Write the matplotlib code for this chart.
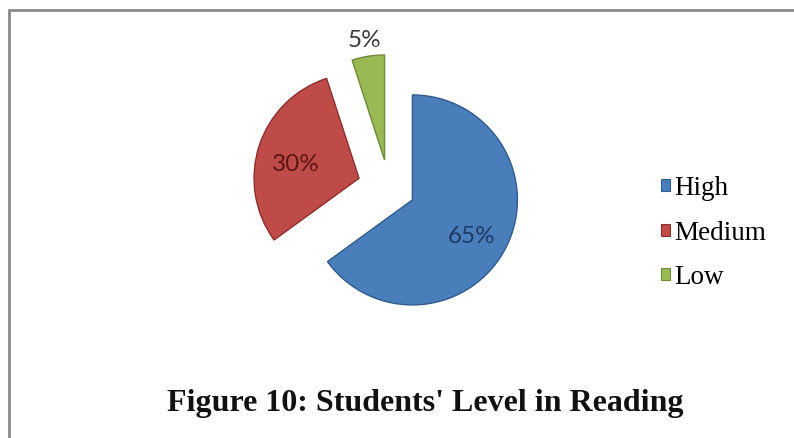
import matplotlib
matplotlib.use("Agg")
import matplotlib.pyplot as plt
from matplotlib.patches import Patch, Rectangle
from matplotlib.transforms import offset_copy
import numpy as np

# Data
levels = ["High", "Medium", "Low"]
shares = [65, 30, 5]
colors = ["#4A7EBB", "#BE4B48", "#98B954"]
edge_colors = ["#2F5A8E", "#8C2F2C", "#6E8A36"]
pct_colors = ["#1C3A66", "#5C1414", "#3A3A3A"]
explode = [0.25, 0.30, 0.27]   # fraction of the radius
title = "Figure 10: Students' Level in Reading"

W, H = 794, 438
fig = plt.figure(figsize=(W / 100, H / 100), dpi=100)
ax = fig.add_axes([0, 0, 1, 1])

# Outer frame
ax.add_patch(Rectangle((9, -10), W + 20, H, fill=False,
                       edgecolor="#8A8A8A", linewidth=2.0, zorder=0))

radius = 105
center = (389, H - 188)
wedges, texts, autotexts = ax.pie(
    shares, colors=colors, explode=[e * radius for e in explode],
    startangle=90, counterclock=False,
    radius=radius, center=center, autopct="%d%%", pctdistance=0.63,
    wedgeprops=dict(linewidth=1.0),
    textprops=dict(family=["Lato", "DejaVu Sans"], fontsize=17.5),
    frame=True,
)
for w, ec in zip(wedges, edge_colors):
    w.set_edgecolor(ec)

# Small slice: label sits outside the wedge
w = wedges[2]
theta = np.deg2rad((w.theta1 + w.theta2) / 2)
cx, cy = w.center
autotexts[2].set_position((cx + 1.22 * radius * np.cos(theta),
                           cy + 1.22 * radius * np.sin(theta)))

# Percent labels sit slightly below their anchor points
label_tr = offset_copy(ax.transData, fig=fig, x=0, y=-7, units="dots")
for t, c in zip(autotexts, pct_colors):
    t.set_color(c)
    t.set_transform(label_tr)

ax.set_xlim(0, W)
ax.set_ylim(0, H)
ax.set_aspect("auto")
ax.axis("off")

handles = [Patch(facecolor=c, edgecolor=e, linewidth=0.8) for c, e in zip(colors, edge_colors)]
fig.legend(handles, levels, loc="center left", bbox_to_anchor=(661 / W, 1 - 233 / H),
           frameon=False, prop=dict(family="Liberation Serif", size=19.5),
           handlelength=0.33, handleheight=0.33, handletextpad=0.15,
           labelspacing=0.72, borderaxespad=0, borderpad=0)

ax.text(425, H - 404, title, ha="center", va="center",
        family="Liberation Serif", fontweight="bold", fontsize=23, color="#111111")

fig.savefig("out.png", dpi=100)
